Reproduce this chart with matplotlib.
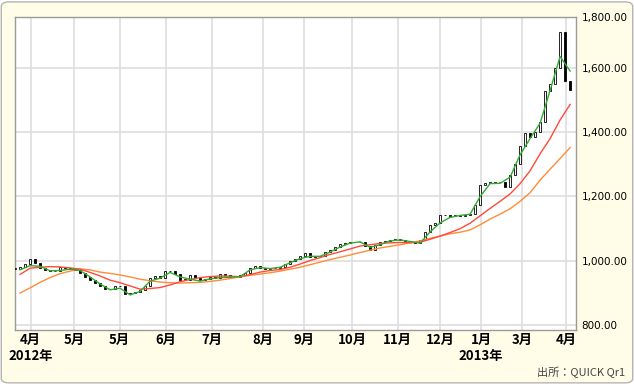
import numpy as np
import matplotlib.pyplot as plt
from matplotlib.patches import FancyBboxPatch

plt.rcParams['font.family'] = ['Noto Sans CJK JP', 'DejaVu Sans']

# daily-ish closes (every ~2 trading days)
closes = np.array([
    975, 980, 990, 1005, 994, 978, 973, 969, 967, 980,
    977, 975, 970, 961, 951, 940, 931, 922, 914, 912,
    922, 921, 898, 900, 904, 910, 922, 947, 952, 947,
    968, 967, 958, 941, 941, 956, 946, 940, 945, 949,
    948, 958, 955, 951, 951, 956, 962, 979, 983, 978,
    976, 977, 978, 981, 990, 998, 1005, 1015, 1025, 1013,
    1014, 1016, 1026, 1034, 1044, 1052, 1055, 1057, 1060, 1058,
    1045, 1035, 1048, 1058, 1063, 1064, 1067, 1064, 1062, 1058,
    1054, 1065, 1090, 1112, 1119, 1143, 1142, 1138, 1143, 1140,
    1142, 1146, 1174, 1235, 1242, 1243, 1244, 1244, 1230, 1267,
    1300, 1356, 1397, 1384, 1400, 1433, 1527, 1550, 1600, 1710,
    1560, 1530,
])

# moving averages, read at every other close
ma_short = [972, 985, 983, 969, 970, 974, 970, 950, 928, 910,
            915, 894, 905, 937, 946, 964, 950, 943, 937, 944,
            948, 949, 951, 972, 979, 976, 980, 994, 1007, 1014,
            1014, 1027, 1043, 1055, 1059, 1042, 1050, 1062, 1065, 1060,
            1055, 1090, 1118, 1135, 1141, 1145, 1200, 1240, 1241, 1260,
            1330, 1380, 1428, 1530, 1635, 1590]
ma_mid = [958, 977, 980, 982, 981, 978, 974, 964, 953, 940,
          932, 922, 912, 914, 917, 925, 935, 942, 948, 951,
          953, 952, 951, 957, 965, 970, 973, 980, 990, 1001,
          1010, 1020, 1028, 1037, 1046, 1050, 1054, 1056, 1057, 1056,
          1058, 1067, 1077, 1088, 1100, 1117, 1140, 1163, 1185, 1208,
          1240, 1280, 1333, 1380, 1438, 1486]
ma_long = [900, 916, 933, 948, 960, 968, 975, 972, 965, 961,
           956, 950, 943, 938, 934, 932, 931, 932, 933, 936,
           940, 945, 950, 955, 959, 963, 968, 974, 980, 988,
           996, 1004, 1011, 1018, 1026, 1033, 1040, 1045, 1050, 1056,
           1062, 1070, 1077, 1084, 1089, 1096, 1112, 1130, 1145, 1162,
           1185, 1212, 1251, 1285, 1318, 1352]

month_labels = ['4月', '5月', '5月', '6月', '7月', '8月', '9月',
                '10月', '11月', '12月', '1月', '3月', '4月']
month_pos = [3.1, 11.8, 20.9, 30.2, 39.4, 49.6, 57.7, 67.4, 76.5, 85, 93.2, 101.4, 110.2]
year_labels = ['2012年', '2013年']
year_at = [0, 10]

y_ticks = [800, 1000, 1200, 1400, 1600, 1757]
y_labels = ['800.00', '1,000.00', '1,200.00', '1,400.00', '1,600.00', '1,800.00']

bg = '#fffde8'
fig = plt.figure(figsize=(6.34, 3.84), dpi=100)
fig.patch.set_facecolor('white')
fig.patches.append(FancyBboxPatch((0.002, 0.003), 0.996, 0.992,
                                  boxstyle='round,pad=0,rounding_size=0.012',
                                  transform=fig.transFigure, fc=bg, ec='#b4b4b4',
                                  lw=1, zorder=-10))
ax = fig.add_axes([0.023, 0.1406, 0.8857, 0.8144])
ax.set_facecolor('white')

x = np.arange(len(closes))
opens = np.r_[closes[0], closes[:-1]]
up = closes >= opens
ax.bar(x[up], np.maximum(closes[up] - opens[up], 2), bottom=opens[up], width=0.36,
       color='white', edgecolor='black', linewidth=0.6, zorder=3)
ax.bar(x[~up], opens[~up] - closes[~up], bottom=closes[~up], width=0.36,
       color='black', edgecolor='black', linewidth=0.6, zorder=3)

xm = x[1::2]
ax.plot(xm, ma_long, color='#ff8c3a', lw=1.0, zorder=4)
ax.plot(xm, ma_mid, color='#ff4a3a', lw=1.0, zorder=4)
ax.plot(xm, ma_short, color='#33aa33', lw=1.0, zorder=5)

ax.set_xlim(-0.1, 112.2)
ax.set_ylim(785, 1757)

ax.set_xticks(month_pos)
ax.set_xticklabels(month_labels, fontsize=9.5, fontweight='bold')
for lab, i in zip(year_labels, year_at):
    ax.text(month_pos[i], -0.062, lab, transform=ax.get_xaxis_transform(),
            ha='center', va='top', fontsize=9.5, fontweight='bold')

ax.yaxis.tick_right()
ax.set_yticks(y_ticks)
ax.set_yticklabels(y_labels, fontsize=7.5, family='DejaVu Sans')
ax.tick_params(length=0, pad=4)
ax.tick_params(axis='x', pad=2)
ax.grid(True, color='#dedede', lw=1.2, zorder=0)
ax.set_axisbelow(True)
for s in ax.spines.values():
    s.set_color('#9a9a9a')
    s.set_linewidth(1)

fig.text(0.986, 0.03, '出所：QUICK Qr1', ha='right', va='center', fontsize=8, color='#444444')

fig.savefig('out.png', dpi=100, facecolor=fig.get_facecolor())
